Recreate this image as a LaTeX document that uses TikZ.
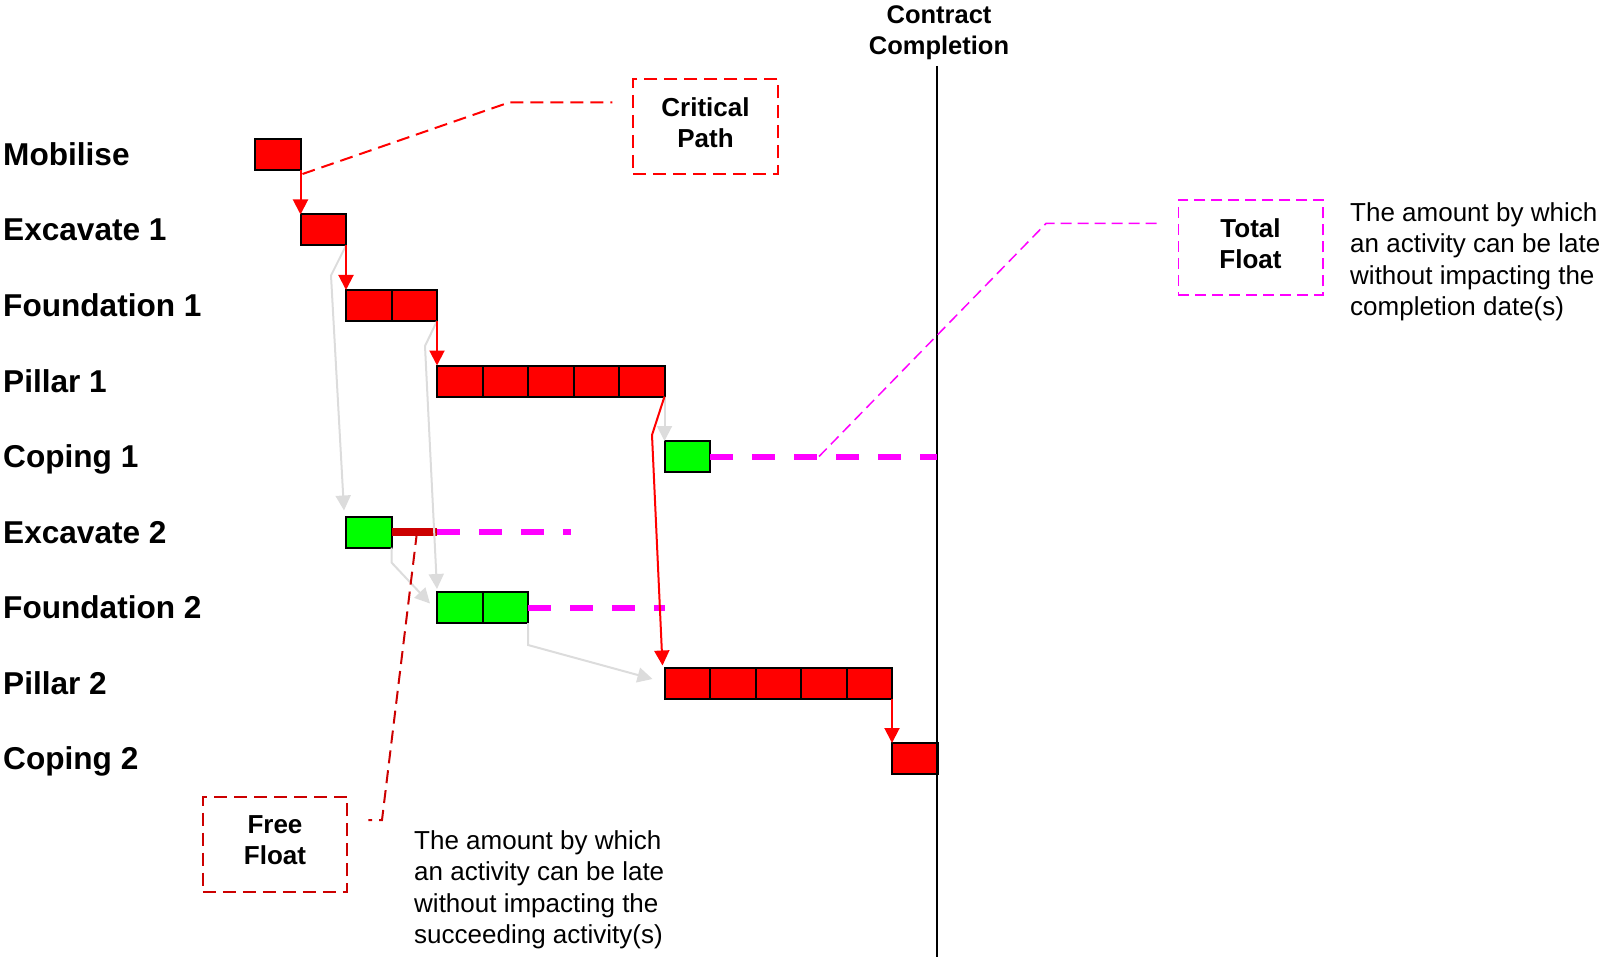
\documentclass[tikz,border=0pt]{standalone}
\usepackage{fontspec}
\setmainfont{Liberation Sans}
\usetikzlibrary{arrows.meta,positioning}
\definecolor{critred}{RGB}{255,0,0}
\definecolor{slackgreen}{RGB}{0,255,0}
\definecolor{floatpink}{RGB}{255,0,255}
\definecolor{freered}{RGB}{204,0,0}
\definecolor{linkgray}{RGB}{220,220,220}

\begin{document}
\begin{tikzpicture}[
  x=1pt,y=-1pt,
  >={Triangle[length=15pt,width=15pt]},
  cell/.style={draw=black,line width=2pt,minimum width=45.5pt,minimum height=31pt,
               inner sep=0pt,outer sep=0pt,anchor=north west},
  crit/.style={cell,fill=critred},
  slack/.style={cell,fill=slackgreen},
  rowlabel/.style={anchor=base west,inner sep=0pt,font=\fontsize{31.6}{37}\selectfont\bfseries},
  callout/.style={dashed,dash pattern=on 13pt off 7pt,line width=2pt,align=center,
                  minimum width=144.5pt,minimum height=95pt,
                  font=\fontsize{26}{31}\selectfont\bfseries,
                  execute at end node={\rule[-8pt]{0pt}{8pt}}},
  note/.style={anchor=north west,align=left,inner sep=0pt,font=\fontsize{26}{31.6}\selectfont},
  critlink/.style={->,critred,line width=2pt},
  link/.style={->,linkgray,line width=2pt},
  floatline/.style={floatpink,line width=6pt,dash pattern=on 23pt off 19pt},
  freeline/.style={freered,line width=8pt},
  leader/.style={line width=2pt,dash pattern=on 13pt off 7pt}
]
\useasboundingbox (0,0) rectangle (1605,957);

% activity names
\foreach \txt [count=\r from 0] in {Mobilise,Excavate 1,Foundation 1,Pillar 1,Coping 1,
                                    Excavate 2,Foundation 2,Pillar 2,Coping 2}
  \node[rowlabel] (row-\r) at (3,{165.5+75.5*\r}) {\txt};

% bars, one cell per time unit
\foreach \act/\row/\col/\len/\kind in {mob/0/0/1/crit, exca/1/1/1/crit, fdna/2/2/2/crit,
    pila/3/4/5/crit, copa/4/9/1/slack, excb/5/2/1/slack, fdnb/6/4/2/slack,
    pilb/7/9/5/crit, copb/8/14/1/crit}
  \foreach \i in {1,...,\len}
    \node[\kind] (\act-\i) at ({255+45.5*(\col+\i-1)},{139+75.5*\row}) {};

% contract completion
\coordinate (cc-top) at (937,66);
\coordinate (cc-bot) at (937,957);
\draw[line width=2pt] (cc-top) -- (cc-bot);
\node[anchor=north,align=center,inner sep=0pt,font=\fontsize{25.5}{31}\selectfont\bfseries]
  (cc) at (939,5) {Contract\\Completion};

% float
\draw[floatline] (copa-1.east) -- (copa-1.east -| cc-top);
\draw[freeline] (excb-1.east) -- (excb-1.east -| fdnb-1.west);
\draw[floatline] (excb-1.east -| fdnb-1.west) -- ++(134,0);
\draw[floatline] (fdnb-2.east) -- (fdnb-2.east -| pilb-1.west);

% non-critical links
\draw[link] (exca-1.south east) -- ++(-15,30) -- ([shift={(-2,-6)}]excb-1.north west);
\draw[link] (fdna-2.south east) -- ++(-12,25) -- ([shift={(0,-3)}]fdnb-1.north west);
\draw[link] (excb-1.south east) -- ++(0,15) -- ([shift={(-7,-4)}]fdnb-1.west);
\draw[link] (pila-5.south east) -- (copa-1.north west);
\draw[link] (fdnb-2.south east) -- ++(0,22) -- ([shift={(-12,-4)}]pilb-1.west);

% critical path
\draw[critlink] (mob-1.south east) -- (exca-1.north west);
\draw[critlink] (exca-1.south east) -- (fdna-1.north west);
\draw[critlink] (fdna-2.south east) -- (pila-1.north west);
\draw[critlink] (pila-5.south east) -- ++(-12.5,38.5) -- ([shift={(-2,-2)}]pilb-1.north west);
\draw[critlink] (pilb-5.south east) -- (copb-1.north west);

% callouts
\node[callout,draw=critred] (cp) at (705.5,126.5) {Critical\\Path};
\node[callout,draw=floatpink,line width=1.5pt,dash pattern=on 11pt off 6pt] (tf) at (1250.5,247.5) {Total\\Float};
\node[callout,draw=freered] (ff) at (275,844) {Free\\Float};

\coordinate (cp-tail) at ([shift={(-20,-24)}]cp.west);
\draw[leader,critred] ([shift={(2,4)}]mob-1.south east) -- (509,0 |- cp-tail) -- (cp-tail);

\coordinate (tf-root) at ([xshift=109pt]copa-1.east);
\coordinate (tf-tail) at ([shift={(-20,-24)}]tf.west);
\draw[leader,floatpink,line width=1.5pt,dash pattern=on 11pt off 6pt]
  (tf-root) -- (1046,0 |- tf-tail) -- (tf-tail);

\coordinate (ff-tail) at ([shift={(20,-24)}]ff.east);
\draw[leader,freered] ([xshift=25.5pt]excb-1.east) -- (382,0 |- ff-tail) -- (ff-tail);

% definitions
\node[note] (tf-note) at (1350,202) {The amount by which\\an activity can be late\\without impacting the\\completion date(s)};
\node[note] (ff-note) at (414,830) {The amount by which\\an activity can be late\\without impacting the\\succeeding activity(s)};
\end{tikzpicture}
\end{document}
